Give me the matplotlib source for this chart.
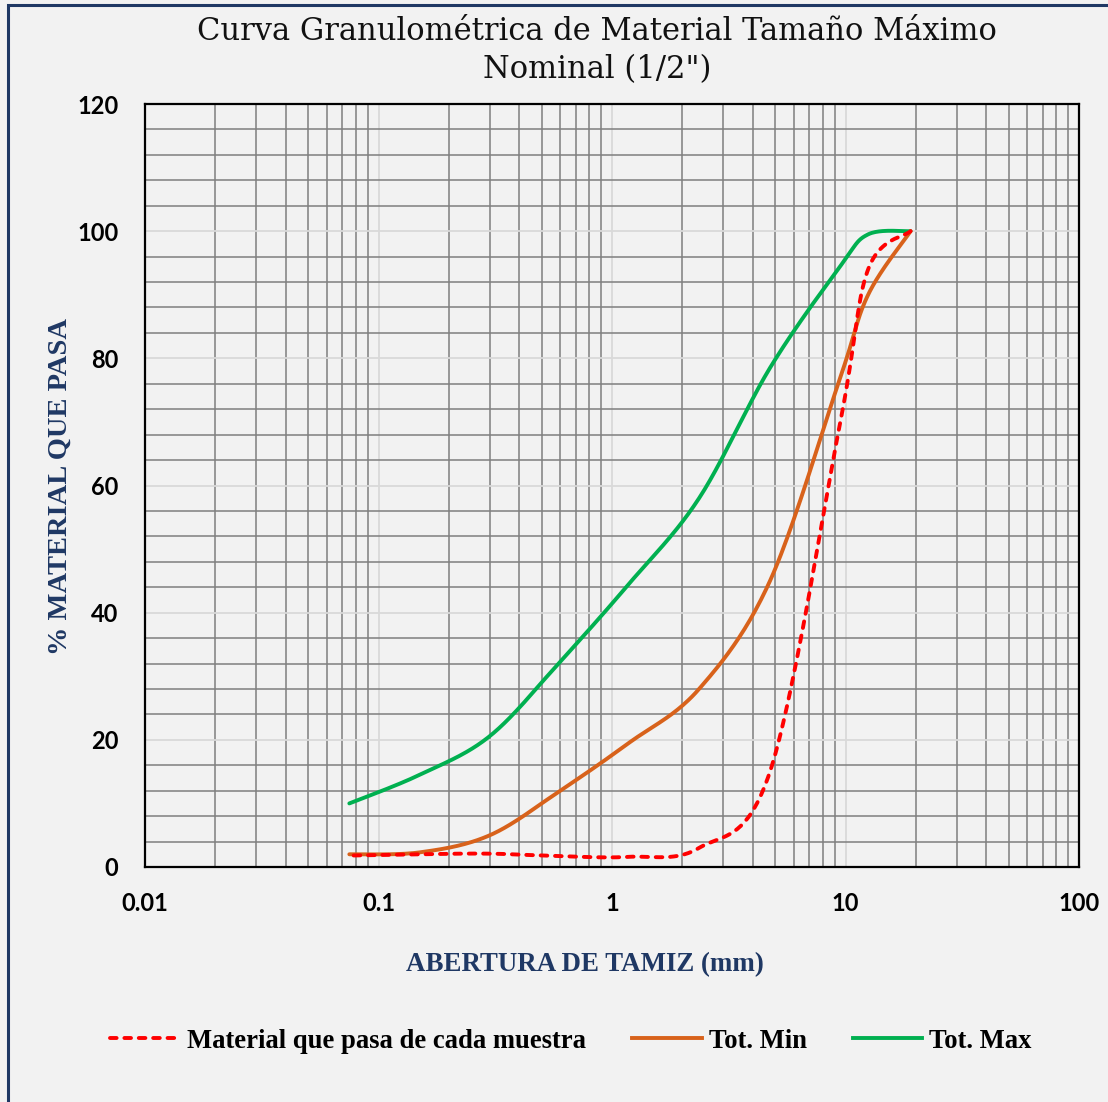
import numpy as np
import matplotlib
matplotlib.use("Agg")
import matplotlib.pyplot as plt
from matplotlib.ticker import MultipleLocator, LogLocator, NullFormatter
from matplotlib.lines import Line2D
from matplotlib.patches import Rectangle

# ---- data ----
sieve_mm = [19.0, 12.5, 9.5, 4.75, 2.36, 1.18, 0.6, 0.3, 0.15, 0.075]
muestra = [100, 94, 70, 15, 3.0, 1.6, 1.7, 2.1, 2.0, 1.8]
tot_min = [100, 90, 77, 45, 28, 19.5, 12, 5, 2.3, 2]
tot_max = [100, 99.5, 94.5, 78.5, 58, 44.5, 32.3, 20.6, 14.5, 10]
series_names = ["Material que pasa de cada muestra", "Tot. Min", "Tot. Max"]
xtick_vals = [0.01, 0.1, 1, 10, 100]
xtick_labels = ["0.01", "0.1", "1", "10", "100"]
ytick_vals = [0, 20, 40, 60, 80, 100, 120]

title1 = "Curva Granulométrica de Material Tamaño Máximo"
title2 = 'Nominal (1/2")'
xlabel = "ABERTURA DE TAMIZ (mm)"
ylabel = "% MATERIAL QUE PASA"

BG = "#F2F2F2"
NAVY = "#1F3864"
C_RED = "#FF0000"
C_ORG = "#D8621B"
C_GRN = "#00B050"


def excel_smooth(x, y, n=40):
    """Excel-like smoothed line (Catmull-Rom bezier) computed in log-x space."""
    lx = np.log10(np.asarray(x, float))
    yy = np.asarray(y, float)
    P = np.column_stack([lx, yy])
    P = np.vstack([P[0], P, P[-1]])
    out = []
    for i in range(1, len(P) - 2):
        p0, p1, p2, p3 = P[i - 1], P[i], P[i + 1], P[i + 2]
        c1 = p1 + (p2 - p0) / 6.0
        c2 = p2 - (p3 - p1) / 6.0
        t = np.linspace(0, 1, n)[:, None]
        seg = ((1 - t) ** 3) * p1 + 3 * ((1 - t) ** 2) * t * c1 + 3 * (1 - t) * t ** 2 * c2 + t ** 3 * p2
        out.append(seg if i == 1 else seg[1:])
    S = np.vstack(out)
    return 10 ** S[:, 0], S[:, 1]


W, H = 1108, 1102
fig = plt.figure(figsize=(W / 100, H / 100), dpi=100, facecolor=BG)
ax = fig.add_axes([145 / W, 1 - 867 / H, (1079 - 145) / W, (867 - 104) / H])
ax.set_facecolor(BG)

ax.set_xscale("log")
ax.set_xlim(0.01, 100)
ax.set_ylim(0, 120)

ax.xaxis.set_major_locator(LogLocator(base=10))
ax.xaxis.set_minor_locator(LogLocator(base=10, subs=np.arange(2, 10)))
ax.xaxis.set_minor_formatter(NullFormatter())
ax.set_xticks(xtick_vals)
ax.set_xticklabels(xtick_labels)
ax.set_yticks(ytick_vals)
ax.yaxis.set_minor_locator(MultipleLocator(4))

ax.grid(which="minor", color="#7F7F7F", lw=1.1, zorder=0)
ax.grid(which="major", color="#D9D9D9", lw=1.3, zorder=0)
ax.set_axisbelow(True)
ax.tick_params(which="both", length=0)
ax.tick_params(axis="y", pad=19)
ax.tick_params(axis="x", pad=18)
for lab in ax.get_xticklabels() + ax.get_yticklabels():
    lab.set_fontfamily("Lato")
    lab.set_fontweight("bold")
    lab.set_fontsize(17)
    lab.set_color("black")
for s in ax.spines.values():
    s.set_color("black")
    s.set_linewidth(1.6)

lw = 2.8
xs, ys = excel_smooth(sieve_mm, tot_max)
ax.plot(xs, ys, color=C_GRN, lw=lw, solid_capstyle="round", zorder=3)
xs, ys = excel_smooth(sieve_mm, tot_min)
ax.plot(xs, ys, color=C_ORG, lw=lw, solid_capstyle="round", zorder=3)
xs, ys = excel_smooth(sieve_mm, muestra)
ax.plot(xs, ys, color=C_RED, lw=lw, dashes=(1.7, 2.0), dash_capstyle="round", zorder=4)

# titles and labels
fig.text(597 / W, 1 - 32 / H, title1, ha="center", va="center",
         fontfamily="DejaVu Serif", fontsize=22, color="#111111")
fig.text(597 / W, 1 - 70 / H, title2, ha="center", va="center",
         fontfamily="DejaVu Serif", fontsize=22, color="#111111")
fig.text(585 / W, 1 - 965 / H, xlabel, ha="center", va="center",
         fontfamily="Liberation Serif", fontweight="bold", fontsize=19.4, color=NAVY)
fig.text(60 / W, 1 - 487 / H, ylabel, ha="center", va="center", rotation=90,
         fontfamily="Liberation Serif", fontweight="bold", fontsize=20.5, color=NAVY)

# legend
handles = [
    Line2D([], [], color=C_RED, lw=lw, dashes=(1.7, 2.0), dash_capstyle="round"),
    Line2D([], [], color=C_ORG, lw=lw),
    Line2D([], [], color=C_GRN, lw=lw),
]
leg = fig.legend(handles, series_names, loc="center", ncol=3,
                 bbox_to_anchor=(571 / W, 1 - 1041 / H), frameon=False,
                 prop={"family": "Liberation Serif", "weight": "bold", "size": 19.2},
                 handlelength=2.62, handletextpad=0.26, columnspacing=1.72)

# outer border
fig.patches.append(Rectangle((8 / W, -0.01), 1.05, 1.01 - 5 / H,
                             transform=fig.transFigure, fill=False,
                             edgecolor=NAVY, lw=2.2))

fig.savefig("out.png", dpi=100, facecolor=BG)
